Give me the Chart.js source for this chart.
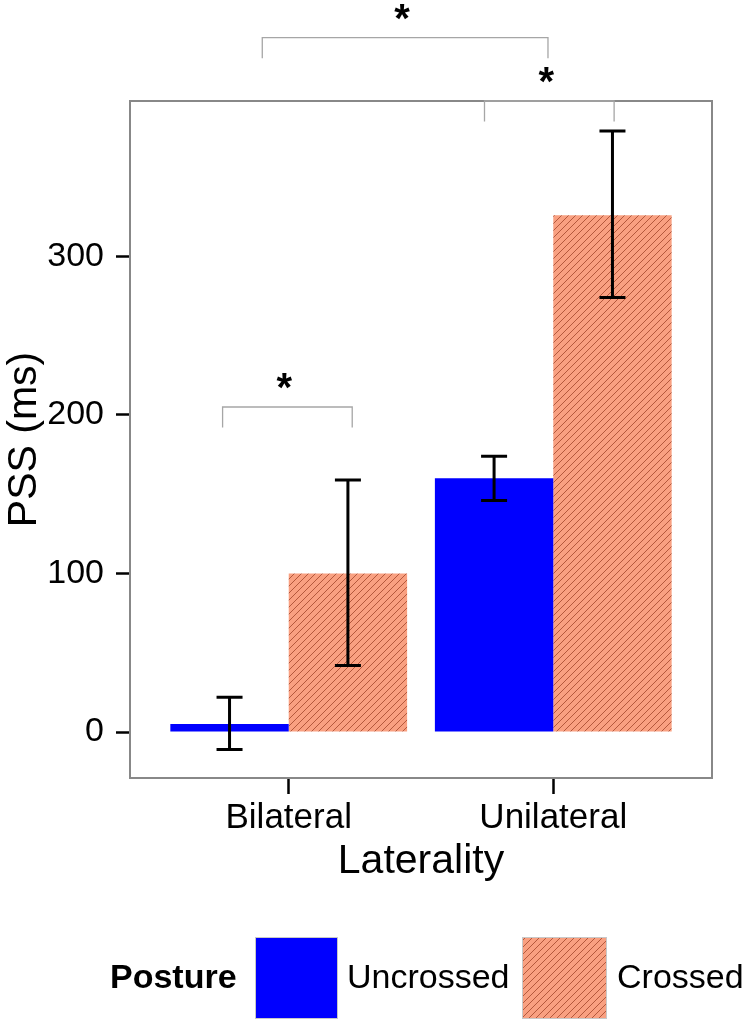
<!DOCTYPE html>
<html>
<head>
<meta charset="utf-8">
<script src="https://cdn.jsdelivr.net/npm/chart.js@4"></script>
<style>
  body { margin: 0; background: #fff; }
  #wrap { width: 747px; height: 1024px; position: relative; }
</style>
</head>
<body>
<div id="wrap"><canvas id="barChart" width="747" height="1024"></canvas></div>
<script>
// data
const categories = ['Bilateral', 'Unilateral'];
const seriesNames = ['Uncrossed', 'Crossed'];
const uncrossed = [5, 160];
const crossed = [100, 326];
const uncrossedLow = [-11, 146];
const uncrossedHigh = [22, 174];
const crossedLow = [42, 274];
const crossedHigh = [159, 379];
const yTicks = [0, 100, 200, 300];

const FONT = '"Liberation Sans", Arial, Helvetica, sans-serif';
const BLUE = '#0000ff';
const SALMON = '#f9a081';

// hatch pattern for the crossed bars
function makeHatch() {
  const s = 7;
  const c = document.createElement('canvas');
  c.width = s; c.height = s;
  const g = c.getContext('2d');
  g.fillStyle = SALMON;
  g.fillRect(0, 0, s, s);
  g.strokeStyle = '#b4583c';
  g.lineWidth = 1;
  g.beginPath();
  g.moveTo(0, s); g.lineTo(s, 0);
  g.moveTo(-s / 2, s / 2); g.lineTo(s / 2, -s / 2);
  g.moveTo(s / 2, s * 1.5); g.lineTo(s * 1.5, s / 2);
  g.stroke();
  return g.createPattern(c, 'repeat');
}
const hatch = makeHatch();

const toXY = (vals) => vals.map((v, i) => ({ x: i + 1, y: v }));

// error bars, frame, significance marks and legend
const extras = {
  id: 'extras',
  afterDatasetsDraw(chart) {
    const ctx = chart.ctx;
    const ys = chart.scales.y;
    const lows = [uncrossedLow, crossedLow], highs = [uncrossedHigh, crossedHigh];
    ctx.save();
    ctx.strokeStyle = '#000';
    ctx.lineWidth = 3;
    chart.data.datasets.forEach((ds, di) => {
      chart.getDatasetMeta(di).data.forEach((bar, i) => {
        const x = bar.x;
        const yl = ys.getPixelForValue(lows[di][i]);
        const yh = ys.getPixelForValue(highs[di][i]);
        ctx.beginPath();
        ctx.moveTo(x, yl); ctx.lineTo(x, yh);
        ctx.moveTo(x - 13, yl); ctx.lineTo(x + 13, yl);
        ctx.moveTo(x - 13, yh); ctx.lineTo(x + 13, yh);
        ctx.stroke();
      });
    });
    ctx.restore();
  },
  afterDraw(chart) {
    const ctx = chart.ctx;
    const a = chart.chartArea;
    const xs = chart.scales.x, ys = chart.scales.y;
    ctx.save();
    // panel border
    ctx.strokeStyle = '#888';
    ctx.lineWidth = 2;
    ctx.strokeRect(a.left, a.top, a.right - a.left, a.bottom - a.top);

    // significance brackets
    const sig = [
      [0.75, 1.24, 205],
      [1.74, 2.23, 398],
      [0.9, 1.98, 438]
    ];
    ctx.strokeStyle = '#a6a6a6';
    ctx.lineWidth = 1.3;
    sig.forEach(([x1, x2, y]) => {
      const px1 = xs.getPixelForValue(x1), px2 = xs.getPixelForValue(x2);
      const py = ys.getPixelForValue(y);
      const leg = ys.getPixelForValue(y - 13);
      ctx.beginPath();
      ctx.moveTo(px1, leg); ctx.lineTo(px1, py); ctx.lineTo(px2, py); ctx.lineTo(px2, leg);
      ctx.stroke();
      ctx.fillStyle = '#000';
      ctx.font = 'bold 40px ' + FONT;
      ctx.textAlign = 'center';
      ctx.textBaseline = 'alphabetic';
      ctx.fillText('*', (px1 + px2) / 2 - 3, py - 28 + 22);
    });

    // legend
    ctx.textBaseline = 'middle';
    ctx.textAlign = 'left';
    ctx.fillStyle = '#000';
    ctx.font = 'bold 34px ' + FONT;
    ctx.fillText('Posture', 110, 979);
    ctx.lineWidth = 1;
    ctx.strokeStyle = '#c8c8c8';
    ctx.fillStyle = BLUE;
    ctx.fillRect(255, 937, 83, 82);
    ctx.strokeRect(255.5, 937.5, 82, 81);
    ctx.fillStyle = hatch;
    ctx.fillRect(522, 937, 85, 82);
    ctx.strokeRect(522.5, 937.5, 84, 81);
    ctx.fillStyle = '#000';
    ctx.font = '34px ' + FONT;
    ctx.fillText(seriesNames[0], 347, 979);
    ctx.fillText(seriesNames[1], 617, 979);
    ctx.restore();
  }
};

new Chart(document.getElementById('barChart'), {
  type: 'bar',
  data: {
    datasets: [
      { label: seriesNames[0], data: toXY(uncrossed), backgroundColor: BLUE },
      { label: seriesNames[1], data: toXY(crossed), backgroundColor: hatch }
    ]
  },
  options: {
    responsive: false,
    animation: false,
    events: [],
    layout: { padding: { top: 101, right: 35, bottom: 138, left: 0 } },
    categoryPercentage: 0.895,
    barPercentage: 1.0,
    plugins: { legend: { display: false }, tooltip: { enabled: false } },
    scales: {
      x: {
        type: 'linear',
        min: 0.4,
        max: 2.6,
        offset: false,
        afterBuildTicks: (s) => { s.ticks = categories.map((c, i) => ({ value: i + 1 })); },
        afterFit: (s) => { s.height = 108; },
        ticks: {
          callback: (v) => categories[v - 1],
          color: '#000',
          font: { family: FONT, size: 35 },
          padding: 3,
          maxRotation: 0
        },
        grid: { offset: false, drawOnChartArea: false, tickLength: 16, tickColor: '#000', tickWidth: 2.5 },
        border: { display: false },
        title: { display: true, text: 'Laterality', color: '#000', font: { family: FONT, size: 41 }, padding: 0 }
      },
      y: {
        min: -29,
        max: 398,
        afterBuildTicks: (s) => { s.ticks = yTicks.map(v => ({ value: v })); },
        afterFit: (s) => { s.width = 130; },
        ticks: {
          color: '#000',
          font: { family: FONT, size: 34 },
          padding: 12
        },
        grid: { drawOnChartArea: false, tickLength: 14, tickColor: '#000', tickWidth: 2.5 },
        border: { display: false },
        title: { display: true, text: 'PSS (ms)', color: '#000', font: { family: FONT, size: 41 }, padding: 0 }
      }
    }
  },
  plugins: [extras]
});
</script>
</body>
</html>
